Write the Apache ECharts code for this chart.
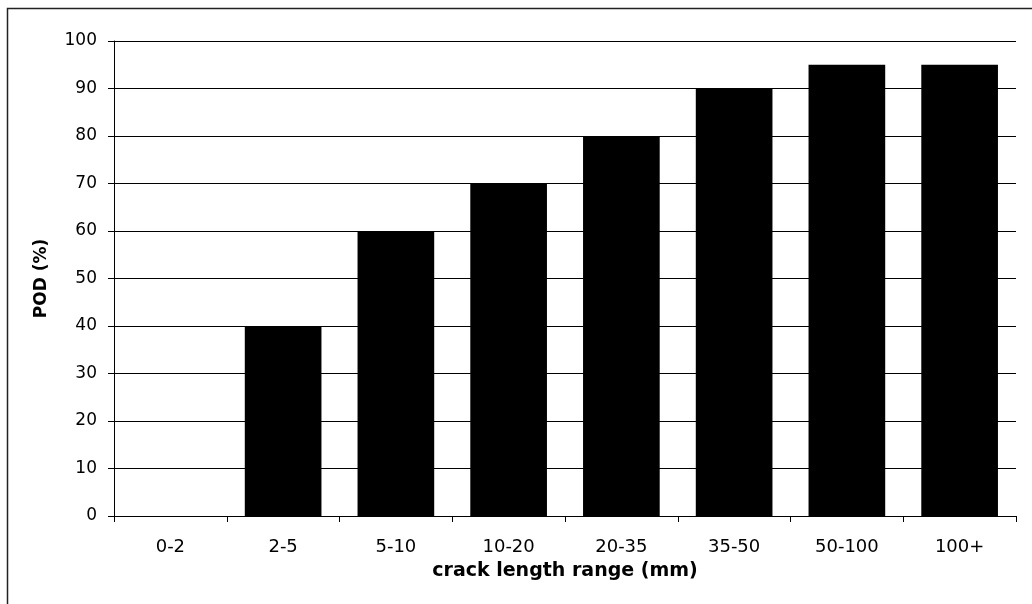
<!DOCTYPE html>
<html><head><meta charset="utf-8">
<script src="https://cdn.jsdelivr.net/npm/echarts@6/dist/echarts.min.js"></script>
<style>html,body{margin:0;padding:0;background:#fff}#c{width:1032px;height:604px}</style>
</head><body><div id="c"></div>
<script>
var categories = ['0-2','2-5','5-10','10-20','20-35','35-50','50-100','100+'];
var podValues = [0,40,60,70,80,90,95,95];
var yTicks = [0,10,20,30,40,50,60,70,80,90,100];

var FONT = 'DejaVu Sans';
var chart = echarts.init(document.getElementById('c'));
chart.setOption({
  animation:false,
  graphic:[{type:'rect',shape:{x:7.5,y:8.5,width:1030,height:600},style:{fill:'none',stroke:'#222',lineWidth:1.5}}],
  grid:{left:114,right:16,top:41,bottom:88},
  xAxis:{type:'category',data:categories,
    axisLine:{lineStyle:{color:'#000',width:1}},
    axisTick:{show:true,length:6,lineStyle:{color:'#000'}},
    axisLabel:{color:'#000',fontSize:18,fontFamily:FONT,margin:22},
    name:'crack length range (mm)',nameLocation:'middle',nameGap:46,
    nameTextStyle:{color:'#000',fontSize:19,fontWeight:'bold',fontFamily:FONT}},
  yAxis:{type:'value',min:0,max:100,interval:10,
    axisLine:{show:true,lineStyle:{color:'#000'}},
    axisTick:{show:true,length:6,lineStyle:{color:'#000'}},
    splitLine:{show:true,lineStyle:{color:'#000',width:1}},
    axisLabel:{color:'#000',fontSize:17,fontFamily:FONT,margin:17,
      formatter:function(v){return yTicks.indexOf(v)>=0?String(v):'';}},
    name:'POD (%)',nameLocation:'middle',nameGap:64,
    nameTextStyle:{color:'#000',fontSize:17,fontWeight:'bold',fontFamily:FONT}},
  series:[{type:'bar',data:podValues,barWidth:'68%',itemStyle:{color:'#000'}}]
});
</script></body></html>
